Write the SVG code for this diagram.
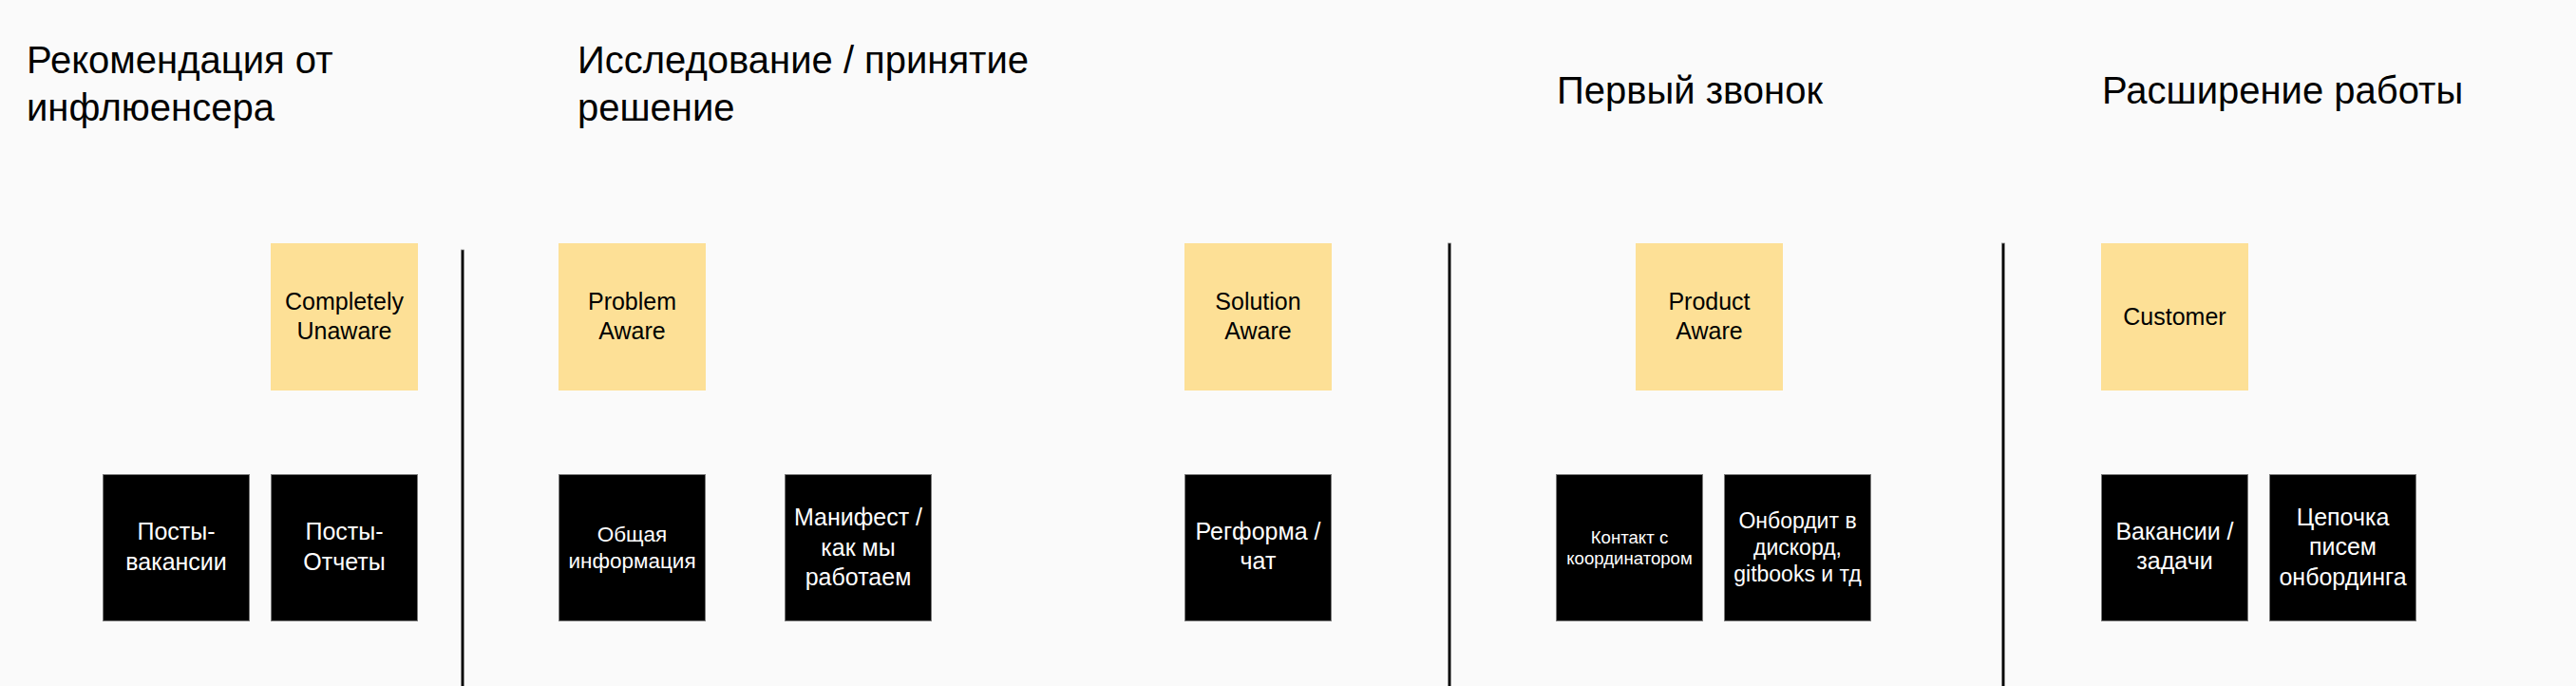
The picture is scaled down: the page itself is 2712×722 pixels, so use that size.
<svg xmlns="http://www.w3.org/2000/svg" width="2712" height="722" viewBox="0 0 2712 722">
<style>
  .hd { font-family: "Liberation Sans", Arial, sans-serif; font-size: 40px; fill: #000; }
  .sticky { fill: #FDE096; }
  .card { fill: #000; stroke: #7a7a7a; stroke-width: 1; }
  .yt { font-family: "Liberation Sans", Arial, sans-serif; font-size: 25px; fill: #000; text-anchor: middle; }
  .bt { font-family: "Liberation Sans", Arial, sans-serif; font-size: 25px; fill: #fff; text-anchor: middle; }
  .sep { fill: #000; stroke: #8a8a8a; stroke-width: 0.8; }
</style>
<rect x="0" y="0" width="2712" height="722" fill="#FAFAFA"/>

<g id="headings">
  <text class="hd" x="28" y="77">Рекомендация от</text>
  <text class="hd" x="28" y="127">инфлюенсера</text>
  <text class="hd" x="608" y="77">Исследование / принятие</text>
  <text class="hd" x="608" y="127">решение</text>
  <text class="hd" x="1639" y="109">Первый звонок</text>
  <text class="hd" x="2213" y="109">Расширение работы</text>
</g>

<g id="separators">
  <rect class="sep" x="485.5" y="263" width="3" height="462"/>
  <rect class="sep" x="1524.5" y="256" width="3" height="470"/>
  <rect class="sep" x="2107.5" y="256" width="3" height="470"/>
</g>

<g id="connectors"></g>

<g id="completely-unaware">
  <rect class="sticky" x="285" y="256" width="155" height="155"/>
  <text class="yt" x="362.5" y="326">Completely</text>
  <text class="yt" x="362.5" y="357">Unaware</text>
</g>
<g id="problem-aware">
  <rect class="sticky" x="588" y="256" width="155" height="155"/>
  <text class="yt" x="665.5" y="326">Problem</text>
  <text class="yt" x="665.5" y="357">Aware</text>
</g>
<g id="solution-aware">
  <rect class="sticky" x="1247" y="256" width="155" height="155"/>
  <text class="yt" x="1324.5" y="326">Solution</text>
  <text class="yt" x="1324.5" y="357">Aware</text>
</g>
<g id="product-aware">
  <rect class="sticky" x="1722" y="256" width="155" height="155"/>
  <text class="yt" x="1799.5" y="326">Product</text>
  <text class="yt" x="1799.5" y="357">Aware</text>
</g>
<g id="customer">
  <rect class="sticky" x="2212" y="256" width="155" height="155"/>
  <text class="yt" x="2289.5" y="342">Customer</text>
</g>

<g id="posty-vakansii">
  <rect class="card" x="108.5" y="499.5" width="154" height="154"/>
  <text class="bt" x="185.5" y="568">Посты-</text>
  <text class="bt" x="185.5" y="600">вакансии</text>
</g>
<g id="posty-otchety">
  <rect class="card" x="285.5" y="499.5" width="154" height="154"/>
  <text class="bt" x="362.5" y="568">Посты-</text>
  <text class="bt" x="362.5" y="600">Отчеты</text>
</g>
<g id="obshchaya-informatsiya">
  <rect class="card" x="588.5" y="499.5" width="154" height="154"/>
  <text class="bt" x="665.5" y="570" style="font-size:22.5px">Общая</text>
  <text class="bt" x="665.5" y="598" style="font-size:22.5px">информация</text>
</g>
<g id="manifest">
  <rect class="card" x="826.5" y="499.5" width="154" height="154"/>
  <text class="bt" x="903.5" y="553">Манифест /</text>
  <text class="bt" x="903.5" y="585">как мы</text>
  <text class="bt" x="903.5" y="616">работаем</text>
</g>
<g id="regforma">
  <rect class="card" x="1247.5" y="499.5" width="154" height="154"/>
  <text class="bt" x="1324.5" y="568">Регформа /</text>
  <text class="bt" x="1324.5" y="599">чат</text>
</g>
<g id="kontakt">
  <rect class="card" x="1638.5" y="499.5" width="154" height="154"/>
  <text class="bt" x="1715.5" y="572" style="font-size:18.6px">Контакт с</text>
  <text class="bt" x="1715.5" y="594" style="font-size:18.6px">координатором</text>
</g>
<g id="onbordit">
  <rect class="card" x="1815.5" y="499.5" width="154" height="154"/>
  <text class="bt" x="1892.5" y="556" style="font-size:23px">Онбордит в</text>
  <text class="bt" x="1892.5" y="584" style="font-size:23px">дискорд,</text>
  <text class="bt" x="1892.5" y="612" style="font-size:23px">gitbooks и тд</text>
</g>
<g id="vakansii-zadachi">
  <rect class="card" x="2212.5" y="499.5" width="154" height="154"/>
  <text class="bt" x="2289.5" y="568">Вакансии /</text>
  <text class="bt" x="2289.5" y="599">задачи</text>
</g>
<g id="tsepochka">
  <rect class="card" x="2389.5" y="499.5" width="154" height="154"/>
  <text class="bt" x="2466.5" y="553">Цепочка</text>
  <text class="bt" x="2466.5" y="584">писем</text>
  <text class="bt" x="2466.5" y="616">онбординга</text>
</g>
</svg>
